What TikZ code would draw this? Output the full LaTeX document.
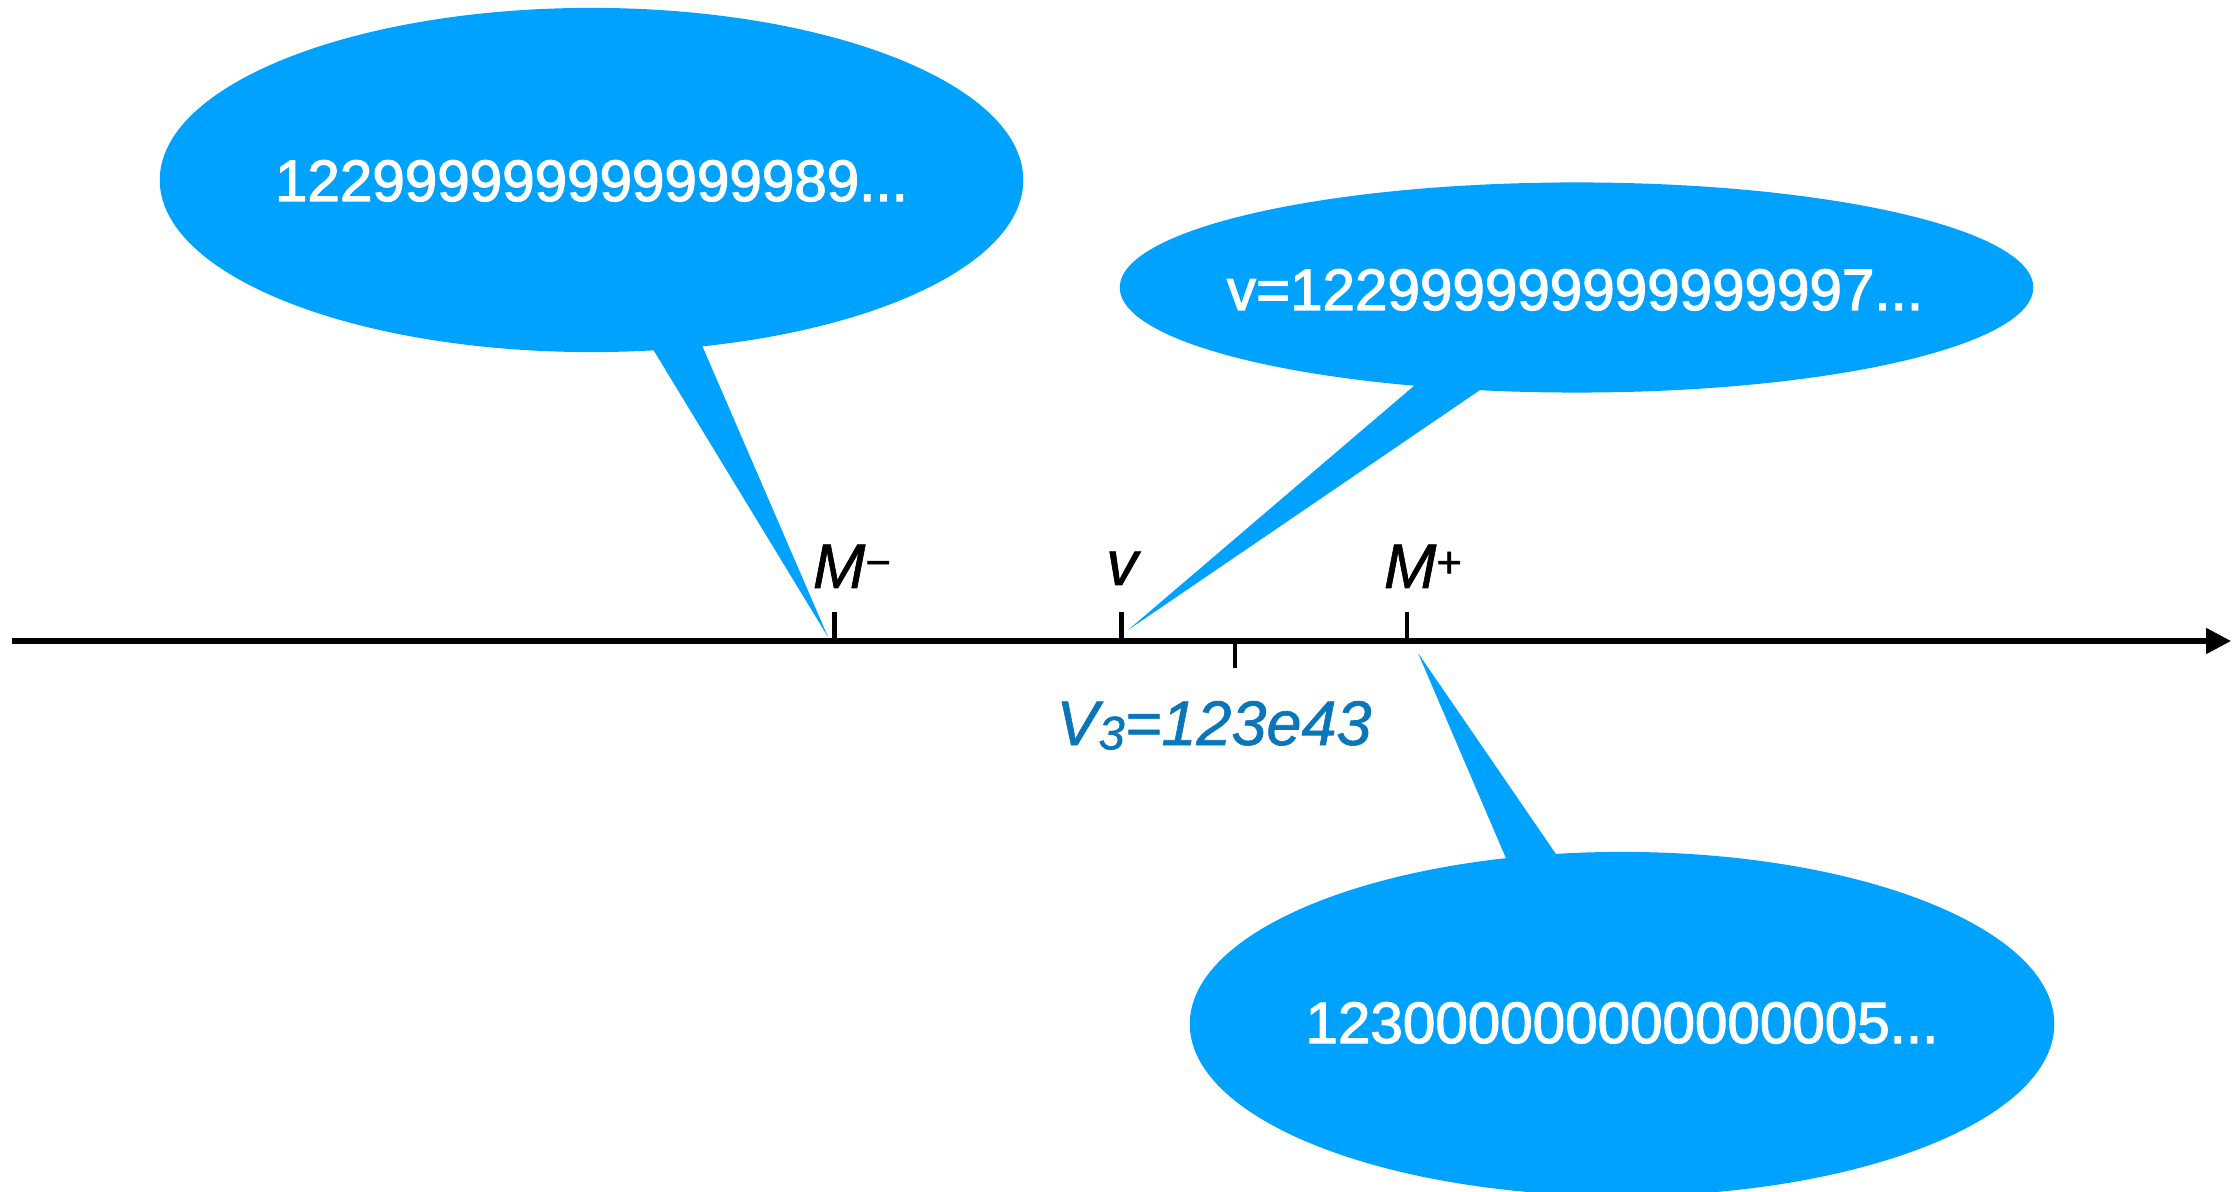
\documentclass[tikz,border=0pt]{standalone}
\usepackage{fontspec}
\setmainfont{Liberation Sans}[FakeBold=1.0]
\newfontfamily\bubfont{Liberation Sans}[FakeBold=2.0]
\usetikzlibrary{arrows.meta,calc,shapes.geometric}
\definecolor{balloon}{RGB}{0,162,255}
\definecolor{vthree}{RGB}{10,118,186}
\newcommand\supsym[1]{\raisebox{0.17em}{\scalebox{0.7}{#1}}}
\begin{document}
\begin{tikzpicture}[x=0.01cm,y=-0.01cm,
  bubble/.style={ellipse,fill=balloon,draw=none,inner sep=0pt},
  bubtext/.style={text=white,inner sep=0pt,anchor=base,font=\bubfont\fontsize{16.6pt}{20pt}\selectfont},
  lab/.style={inner sep=0pt,anchor=base,font=\fontsize{17.9pt}{21pt}\selectfont\itshape},
  axisline/.style={line width=1.45pt,-{Triangle[length=7.1pt,width=7.1pt]}},
  tickline/.style={line width=1.35pt}]
\useasboundingbox (0,0) rectangle (2237,1192);

% balloons
\node[bubble,minimum width=8.63cm,minimum height=3.44cm] (b1) at (591.5,180) {};
\node[bubble,minimum width=9.13cm,minimum height=2.10cm] (b2) at (1576.5,287.5) {};
\node[bubble,minimum width=8.64cm,minimum height=3.44cm] (b3) at (1622,1024) {};

% tails
\coordinate (tip1) at (828,637);
\coordinate (b1l) at (654,351);
\coordinate (b1r) at (702.7,347);
\coordinate (tip2) at (1128,630);
\coordinate (b2l) at (1415,385);
\coordinate (b2r) at (1480,390);
\coordinate (tip3) at (1418,653);
\coordinate (b3l) at (1505,856);
\coordinate (b3r) at (1555,852.7);
\fill[balloon] (tip1) -- ($(tip1)!1.15!(b1l)$) -- ($(tip1)!1.15!(b1r)$) -- cycle;
\fill[balloon] (tip2) -- ($(tip2)!1.15!(b2l)$) -- ($(tip2)!1.15!(b2r)$) -- cycle;
\fill[balloon] (tip3) -- ($(tip3)!1.15!(b3l)$) -- ($(tip3)!1.15!(b3r)$) -- cycle;

% balloon texts
\node[bubtext] (t1) at (591.5,201) {122{}99999{}99999{}999{}89...};
\node[bubtext] (t2) at (1575,310) {v=122{}99999{}99999{}9999{}7...};
\node[bubtext] (t3) at (1622,1043) {123{}00000{}00000{}0000{}5...};

% axis
\coordinate (a0) at (12,641);
\coordinate (a1) at (2231,641);
\draw[axisline] (a0) -- (a1);

% ticks
\coordinate (tmtop) at (834.5,612);
\coordinate (tmbot) at (834.5,641);
\coordinate (tvtop) at (1121.5,612);
\coordinate (tvbot) at (1121.5,641);
\coordinate (tptop) at (1407,612);
\coordinate (tpbot) at (1407,641);
\coordinate (tltop) at (1235,641);
\coordinate (tlbot) at (1235,668);
\draw[tickline] (tmtop) -- (tmbot);
\draw[tickline] (tvtop) -- (tvbot);
\draw[tickline] (tptop) -- (tpbot);
\draw[tickline] (tltop) -- (tlbot);

% labels
\node[lab] (lm) at (852,588) {M\supsym{\upshape −}};
\node[lab] (lv) at (1122,585) {v};
\node[lab] (lp) at (1423,588) {M\supsym{\upshape +}};
\node[lab,text=vthree] (lv3) at (1214,745) {V\raisebox{-0.07em}{\scalebox{0.75}{3}}=123e43};
\end{tikzpicture}
\end{document}
